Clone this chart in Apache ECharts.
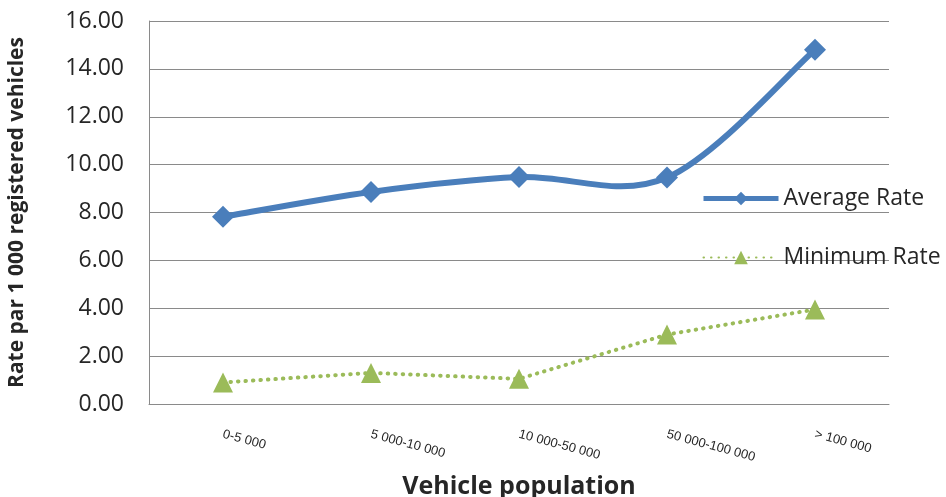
<!DOCTYPE html>
<html>
<head>
<meta charset="utf-8">
<script src="https://cdn.jsdelivr.net/npm/echarts@6/dist/echarts.min.js"></script>
<style>
  html, body { margin: 0; padding: 0; background: #fff; }
  #chart { width: 946px; height: 497px; }
</style>
</head>
<body>
<div id="chart"></div>
<script>
// Vehicle population bands
const categories = ['0-5 000', '5 000-10 000', '10 000-50 000', '50 000-100 000', '> 100 000'];
// Rates per 1 000 registered vehicles
const averageRate = [7.82, 8.86, 9.48, 9.46, 14.8];
const minimumRate = [0.9, 1.3, 1.05, 2.9, 3.95];
// Y axis range
const yMin = 0, yMax = 16, yStep = 2;

const font = '"Open Sans", sans-serif';
const gridColor = '#8a8a8a';
const blue = '#4A7EBB';
const green = '#9BBB59';

// Cardinal (Catmull-Rom style) spline through the average-rate points,
// built in pixel space from the axis scales.
function smoothPath(api) {
  const pts = averageRate.map((v, k) => api.coord([k, v]));
  const n = pts.length;
  let d = 'M' + pts[0][0] + ' ' + pts[0][1];
  for (let i = 0; i < n - 1; i++) {
    const p0 = pts[Math.max(i - 1, 0)];
    const p1 = pts[i];
    const p2 = pts[i + 1];
    const p3 = pts[Math.min(i + 2, n - 1)];
    const c1x = p1[0] + (p2[0] - p0[0]) / 6;
    const c1y = p1[1] + (p2[1] - p0[1]) / 6;
    const c2x = p2[0] - (p3[0] - p1[0]) / 6;
    const c2y = p2[1] - (p3[1] - p1[1]) / 6;
    d += ' C' + c1x + ' ' + c1y + ' ' + c2x + ' ' + c2y + ' ' + p2[0] + ' ' + p2[1];
  }
  return d;
}

const chart = echarts.init(document.getElementById('chart'), null, { renderer: 'canvas' });
chart.setOption({
  animation: false,
  backgroundColor: '#ffffff',
  grid: { left: 149, width: 740, top: 21, height: 383, containLabel: false, outerBoundsMode: 'none' },
  legend: {
    orient: 'vertical',
    left: 696,
    top: 182,
    itemWidth: 75,
    itemHeight: 17,
    itemGap: 36,
    textStyle: { fontFamily: font, fontSize: 23, color: '#262626', lineHeight: 17 },
    data: [
      { name: 'Average Rate', lineStyle: { opacity: 1, width: 5, color: blue } },
      { name: 'Minimum Rate' }
    ]
  },
  xAxis: {
    type: 'category',
    data: categories,
    boundaryGap: true,
    name: 'Vehicle population',
    nameLocation: 'middle',
    nameGap: 70,
    nameTextStyle: { fontFamily: font, fontSize: 25, fontWeight: 'bold', color: '#262626' },
    axisLine: { show: true, lineStyle: { color: gridColor, width: 1 } },
    axisTick: { show: false },
    axisLabel: {
      interval: 0,
      rotate: -15,
      margin: 30,
      fontFamily: '"Liberation Sans", Arial, sans-serif',
      fontSize: 13,
      color: '#262626'
    }
  },
  yAxis: {
    type: 'value',
    min: yMin,
    max: yMax,
    interval: yStep,
    name: 'Rate par 1 000 registered vehicles',
    nameLocation: 'middle',
    nameGap: 121,
    nameTextStyle: { fontFamily: font, fontSize: 21, fontWeight: 'bold', color: '#262626' },
    axisLine: { show: true, lineStyle: { color: gridColor, width: 1 } },
    axisTick: { show: false },
    splitLine: { show: true, lineStyle: { color: gridColor, width: 1 } },
    axisLabel: {
      margin: 25,
      fontFamily: font,
      fontSize: 23,
      color: '#262626',
      formatter: v => v.toFixed(2)
    }
  },
  series: [
    {
      // smoothed curve for the average rate
      name: 'Average Rate curve',
      type: 'custom',
      data: averageRate.map((v, i) => [i, v]),
      encode: { x: 0, y: 1 },
      z: 3,
      silent: true,
      renderItem: (params, api) => {
        if (params.dataIndex !== 0) return null;
        return {
          type: 'path',
          shape: { pathData: smoothPath(api) },
          style: { stroke: blue, lineWidth: 6, fill: null, lineCap: 'round', lineJoin: 'round' }
        };
      }
    },
    {
      name: 'Average Rate',
      type: 'line',
      data: averageRate,
      symbol: 'diamond',
      symbolSize: 22,
      itemStyle: { color: blue },
      lineStyle: { color: blue, width: 6, opacity: 0 },
      z: 4
    },
    {
      name: 'Minimum Rate',
      type: 'line',
      data: minimumRate,
      smooth: false,
      symbol: 'triangle',
      symbolSize: 20,
      itemStyle: { color: green },
      lineStyle: { color: green, width: 4, type: [0.5, 7], cap: 'round' },
      z: 2
    }
  ]
});
</script>
</body>
</html>
